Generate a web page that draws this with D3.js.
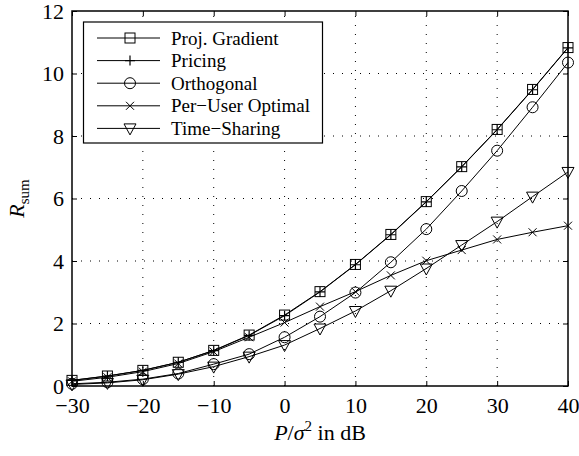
<!DOCTYPE html>
<html>
<head>
<meta charset="utf-8">
<script src="https://cdn.jsdelivr.net/npm/d3@7"></script>
<style>
  body { margin: 0; background: #fff; }
</style>
</head>
<body>
<div id="chart"></div>
<script>
// SNR values in dB
const snrDb = [-30, -25, -20, -15, -10, -5, 0, 5, 10, 15, 20, 25, 30, 35, 40];

// sum rates
const projGradient = [0.18, 0.32, 0.5, 0.76, 1.14, 1.63, 2.27, 3.02, 3.89, 4.85, 5.9, 7.02, 8.21, 9.49, 10.83];
const pricing      = [0.18, 0.32, 0.5, 0.76, 1.13, 1.62, 2.25, 3.01, 3.88, 4.84, 5.89, 7.01, 8.2, 9.48, 10.82];
const orthogonal   = [0.07, 0.12, 0.22, 0.4, 0.7, 1.02, 1.56, 2.22, 2.99, 3.96, 5.02, 6.24, 7.53, 8.92, 10.35];
const perUserOpt   = [0.15, 0.28, 0.46, 0.72, 1.1, 1.56, 2.03, 2.54, 3.02, 3.54, 4.01, 4.35, 4.69, 4.92, 5.13];
const timeSharing  = [0.05, 0.1, 0.2, 0.38, 0.62, 0.94, 1.31, 1.84, 2.4, 3.05, 3.76, 4.51, 5.26, 6.06, 6.85];

const xTicks = [-30, -20, -10, 0, 10, 20, 30, 40];
const yTicks = [0, 2, 4, 6, 8, 10, 12];

const series = [
  {name: "Proj. Gradient", values: projGradient, marker: "square"},
  {name: "Pricing", values: pricing, marker: "plus"},
  {name: "Orthogonal", values: orthogonal, marker: "circle"},
  {name: "Per\u2212User Optimal", values: perUserOpt, marker: "cross"},
  {name: "Time\u2212Sharing", values: timeSharing, marker: "triangle"}
];

const serif = "\"Liberation Serif\", \"Times New Roman\", monospace";
const width = 579, height = 456;
const margin = {top: 11, right: 11, bottom: 70, left: 72};

const svg = d3.select("#chart").append("svg")
    .attr("width", width)
    .attr("height", height)
    .style("font-family", serif);

const x = d3.scaleLinear().domain([-30, 40]).range([margin.left, width - margin.right]);
const y = d3.scaleLinear().domain([0, 12]).range([height - margin.bottom, margin.top]);

// dotted grid
const grid = svg.append("g")
    .attr("stroke", "#000")
    .attr("stroke-width", 1)
    .attr("stroke-dasharray", "1,8");
grid.selectAll("line.vx")
    .data(xTicks.slice(1, -1))
    .join("line")
    .attr("x1", d => x(d)).attr("x2", d => x(d))
    .attr("y1", y(0)).attr("y2", y(12));
grid.selectAll("line.hy")
    .data(yTicks.slice(1, -1))
    .join("line")
    .attr("x1", x(-30)).attr("x2", x(40))
    .attr("y1", d => y(d)).attr("y2", d => y(d));

// axes with inward ticks on all four sides
const tickLen = 5;
const axisFont = g => g.selectAll("text")
    .style("font-family", serif)
    .style("font-size", "22px")
    .attr("fill", "#000");
const fmt = d => d < 0 ? "\u2212" + Math.abs(d) : String(d);

svg.append("g")
    .attr("transform", `translate(0,${y(0)})`)
    .call(d3.axisBottom(x).tickValues(xTicks).tickFormat(fmt).tickSizeInner(-tickLen).tickSizeOuter(0).tickPadding(11))
    .call(axisFont)
    .call(g => g.select(".domain").remove());
svg.append("g")
    .attr("transform", `translate(0,${y(12)})`)
    .call(d3.axisTop(x).tickValues(xTicks).tickFormat("").tickSizeInner(-tickLen).tickSizeOuter(0))
    .call(g => g.select(".domain").remove());
svg.append("g")
    .attr("transform", `translate(${x(-30)},0)`)
    .call(d3.axisLeft(y).tickValues(yTicks).tickSizeInner(-tickLen).tickSizeOuter(0).tickPadding(8))
    .call(axisFont)
    .call(g => g.select(".domain").remove());
svg.append("g")
    .attr("transform", `translate(${x(40)},0)`)
    .call(d3.axisRight(y).tickValues(yTicks).tickFormat("").tickSizeInner(-tickLen).tickSizeOuter(0))
    .call(g => g.select(".domain").remove());

// frame
svg.append("rect")
    .attr("x", x(-30)).attr("y", y(12))
    .attr("width", x(40) - x(-30)).attr("height", y(0) - y(12))
    .attr("fill", "none")
    .attr("stroke", "#000")
    .attr("stroke-width", 1.5);

function drawMarker(g, type, cx, cy) {
  const s = 5;
  if (type === "square") {
    g.append("rect").attr("x", cx - s).attr("y", cy - s).attr("width", 2 * s).attr("height", 2 * s)
      .attr("fill", "none").attr("stroke", "#000").attr("stroke-width", 1);
  } else if (type === "plus") {
    g.append("path").attr("d", `M${cx - s},${cy}H${cx + s}M${cx},${cy - s}V${cy + s}`)
      .attr("stroke", "#000").attr("stroke-width", 1.2);
  } else if (type === "circle") {
    g.append("circle").attr("cx", cx).attr("cy", cy).attr("r", s + 0.5)
      .attr("fill", "none").attr("stroke", "#000").attr("stroke-width", 1);
  } else if (type === "cross") {
    const c = 4;
    g.append("path").attr("d", `M${cx - c},${cy - c}L${cx + c},${cy + c}M${cx - c},${cy + c}L${cx + c},${cy - c}`)
      .attr("stroke", "#000").attr("stroke-width", 1);
  } else if (type === "triangle") {
    g.append("path").attr("d", `M${cx - 6},${cy - 4.5}L${cx + 6},${cy - 4.5}L${cx},${cy + 6.5}Z`)
      .attr("fill", "none").attr("stroke", "#000").attr("stroke-width", 1);
  }
}

const line = d3.line()
    .x((d, i) => x(snrDb[i]))
    .y(d => y(d));

const plot = svg.append("g");
series.forEach(s => {
  plot.append("path")
      .datum(s.values)
      .attr("d", line)
      .attr("fill", "none")
      .attr("stroke", "#000")
      .attr("stroke-width", 1);
  const mg = plot.append("g");
  s.values.forEach((v, i) => drawMarker(mg, s.marker, x(snrDb[i]), y(v)));
});

// legend
const legend = svg.append("g");
legend.append("rect")
    .attr("x", 83.5).attr("y", 22)
    .attr("width", 239).attr("height", 121)
    .attr("fill", "#fff")
    .attr("stroke", "#000")
    .attr("stroke-width", 1.2);
series.forEach((s, i) => {
  const ly = 38 + i * 22.6;
  legend.append("line")
      .attr("x1", 97).attr("x2", 160)
      .attr("y1", ly).attr("y2", ly)
      .attr("stroke", "#000").attr("stroke-width", 1);
  drawMarker(legend, s.marker, 130, ly);
  legend.append("text")
      .attr("x", 171)
      .attr("y", ly)
      .attr("dy", "0.35em")
      .style("font-family", serif)
      .style("font-size", "19px")
      .text(s.name);
});

// axis labels
const xl = svg.append("text")
    .attr("x", (x(-30) + x(40)) / 2)
    .attr("y", 440)
    .attr("text-anchor", "middle")
    .style("font-family", serif)
    .style("font-size", "22px");
xl.append("tspan").style("font-style", "italic").text("P");
xl.append("tspan").text("/");
xl.append("tspan").style("font-style", "italic").text("\u03c3");
xl.append("tspan").style("font-size", "15px").attr("dy", -9).text("2");
xl.append("tspan").attr("dy", 9).text(" in dB");

const yl = svg.append("text")
    .attr("transform", `translate(24,${(y(0) + y(12)) / 2}) rotate(-90)`)
    .attr("text-anchor", "middle")
    .style("font-family", serif)
    .style("font-size", "22px");
yl.append("tspan").style("font-style", "italic").text("R");
yl.append("tspan").style("font-size", "15px").attr("dy", 5).text("sum");
</script>
</body>
</html>
